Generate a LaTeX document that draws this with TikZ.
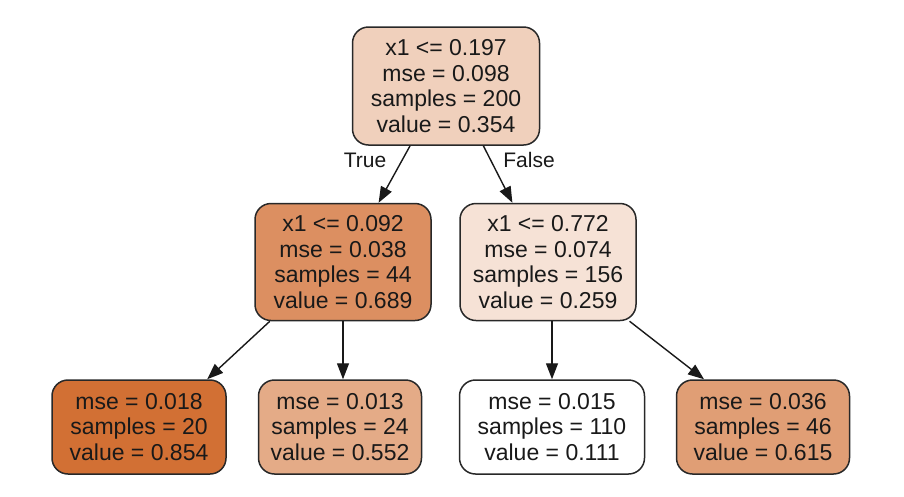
\documentclass[tikz,border=0pt]{standalone}
\usepackage{fontspec}
\setmainfont{Liberation Sans}
\usepackage{xcolor}
\usetikzlibrary{arrows.meta}
\definecolor{leafbase}{RGB}{210,112,52}
\definecolor{boxline}{RGB}{40,40,40}
\tikzset{
  treenode/.style={draw=boxline,line width=1.5pt,rounded corners=16pt,
    align=center,inner sep=0pt,font=\fontsize{23}{25.5}\selectfont,text=black!90},
  treeedge/.style={line width=1.4pt,black!90,-{Triangle[length=16pt,width=12pt]}},
  edgelabel/.style={font=\fontsize{21}{24}\selectfont,text=black!90}
}
\begin{document}
\begin{tikzpicture}[x=1pt,y=-1pt]
\useasboundingbox[fill=white] (0,0) rectangle (904,496);

% Root
\node[treenode,fill=leafbase!33!white,minimum width=187pt,minimum height=118pt]
  (root) at (446,86) {x1 <= 0.197\\mse = 0.098\\samples = 200\\value = 0.354};

% Second level
\node[treenode,fill=leafbase!78!white,minimum width=176pt,minimum height=117pt]
  (lmid) at (343,262) {x1 <= 0.092\\mse = 0.038\\samples = 44\\value = 0.689};
\node[treenode,fill=leafbase!20!white,minimum width=176pt,minimum height=117pt]
  (rmid) at (548,262) {x1 <= 0.772\\mse = 0.074\\samples = 156\\value = 0.259};

% Leaves
\node[treenode,fill=leafbase,minimum width=174pt,minimum height=94pt]
  (ll) at (139,427) {mse = 0.018\\samples = 20\\value = 0.854};
\node[treenode,fill=leafbase!59!white,minimum width=163pt,minimum height=94pt]
  (lr) at (340,427) {mse = 0.013\\samples = 24\\value = 0.552};
\node[treenode,fill=white,minimum width=185pt,minimum height=94pt]
  (rl) at (552,427) {mse = 0.015\\samples = 110\\value = 0.111};
\node[treenode,fill=leafbase!68!white,minimum width=173pt,minimum height=94pt]
  (rr) at (763,427) {mse = 0.036\\samples = 46\\value = 0.615};

% Edges
\draw[treeedge] (root.-121) -- (lmid.59);
\draw[treeedge] (root.-58) -- (rmid.121);
\draw[treeedge] (lmid.-141) -- (ll.35);
\draw[treeedge] (lmid.south) -- (lmid.south |- lr.north);
\draw[treeedge] (rl.north |- rmid.south) -- (rl.north);
\draw[treeedge] (rmid.-36) -- (rr.141);

% Edge labels
\node[edgelabel] (truelabel) at (365,160) {True};
\node[edgelabel] (falselabel) at (529,160) {False};
\end{tikzpicture}
\end{document}
